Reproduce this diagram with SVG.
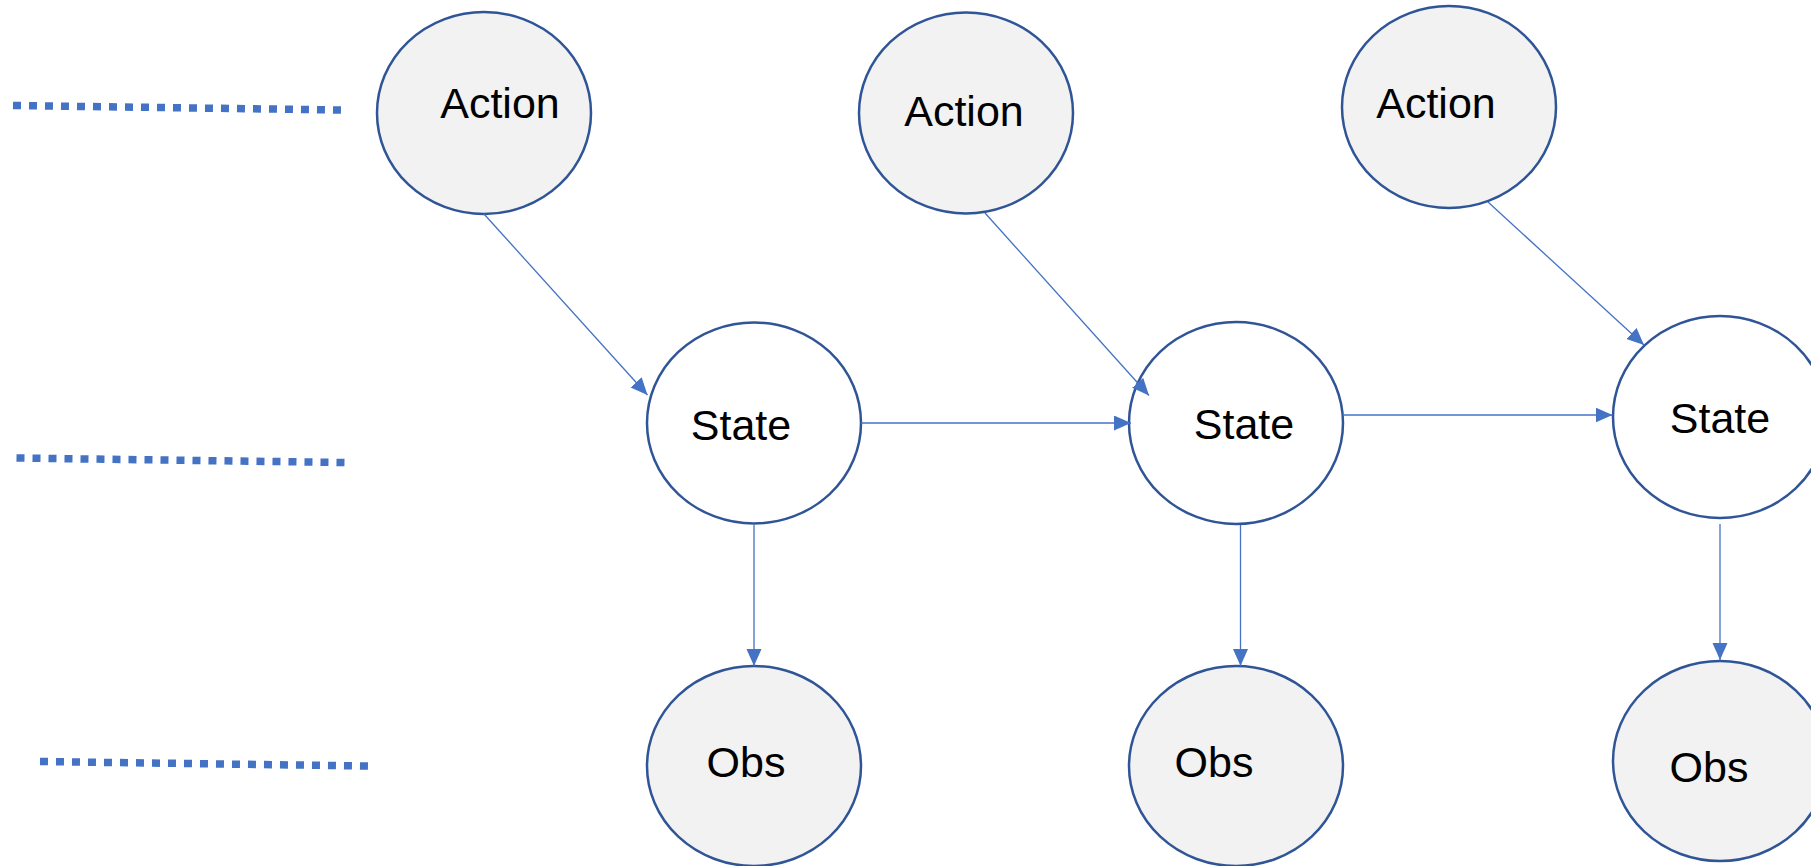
<svg xmlns="http://www.w3.org/2000/svg" width="1811" height="866" viewBox="0 0 1811 866">
  <defs>
    <style>
      .node-shaded { fill: #F2F2F2; stroke: #2F5597; stroke-width: 2.5; }
      .node-plain { fill: #FFFFFF; stroke: #2F5597; stroke-width: 2.5; }
      .label { font-family: "Liberation Sans", Arial, sans-serif; font-size: 43px; fill: #000000; text-anchor: middle; }
      .edge { stroke: #4472C4; stroke-width: 1.3; fill: none; marker-end: url(#arrow); }
      .dots { stroke: #4472C4; stroke-width: 7.5; stroke-dasharray: 8 8; fill: none; }
    </style>
    <marker id="arrow" markerUnits="userSpaceOnUse" markerWidth="18" markerHeight="16" refX="17" refY="7.5" orient="auto">
      <path d="M0,0 L17,7.5 L0,15 Z" fill="#4472C4"/>
    </marker>
  </defs>

  <rect width="1811" height="866" fill="#FFFFFF"/>

  <!-- dotted lead-in lines on the left -->
  <g id="lead-ins">
    <line class="dots" x1="13" y1="105.5" x2="341" y2="110"/>
    <line class="dots" x1="16.5" y1="458" x2="345" y2="462.5"/>
    <line class="dots" x1="40" y1="761.5" x2="368" y2="766"/>
  </g>

  <!-- action nodes -->
  <g id="action-1">
    <ellipse class="node-shaded" cx="484" cy="113" rx="107" ry="101"/>
    <text class="label" x="500" y="118">Action</text>
  </g>
  <g id="action-2">
    <ellipse class="node-shaded" cx="966" cy="113" rx="107" ry="100.5"/>
    <text class="label" x="964" y="126">Action</text>
  </g>
  <g id="action-3">
    <ellipse class="node-shaded" cx="1449" cy="107" rx="107" ry="101"/>
    <text class="label" x="1436" y="118">Action</text>
  </g>

  <!-- state nodes -->
  <g id="state-1">
    <ellipse class="node-plain" cx="754" cy="423" rx="107" ry="100.5"/>
    <text class="label" x="741" y="440">State</text>
  </g>
  <g id="state-2">
    <ellipse class="node-plain" cx="1236" cy="423" rx="107" ry="101"/>
    <text class="label" x="1244" y="439">State</text>
  </g>
  <g id="state-3">
    <ellipse class="node-plain" cx="1720" cy="417" rx="107" ry="101"/>
    <text class="label" x="1720" y="433">State</text>
  </g>

  <!-- observation nodes -->
  <g id="obs-1">
    <ellipse class="node-shaded" cx="754" cy="766" rx="107" ry="100"/>
    <text class="label" x="746" y="777">Obs</text>
  </g>
  <g id="obs-2">
    <ellipse class="node-shaded" cx="1236" cy="766" rx="107" ry="100"/>
    <text class="label" x="1214" y="777">Obs</text>
  </g>
  <g id="obs-3">
    <ellipse class="node-shaded" cx="1720" cy="761" rx="107" ry="100"/>
    <text class="label" x="1709" y="782">Obs</text>
  </g>

  <!-- connectors, drawn over the nodes so the arrowheads stay visible -->
  <g id="connectors">
    <line class="edge" x1="484" y1="214" x2="647.5" y2="395"/>
    <line class="edge" x1="985" y1="213" x2="1149" y2="395.5"/>
    <line class="edge" x1="1488" y1="202" x2="1644" y2="345"/>
    <line class="edge" x1="861" y1="423" x2="1131" y2="423"/>
    <line class="edge" x1="1344" y1="415" x2="1612.5" y2="415"/>
    <line class="edge" x1="754" y1="525" x2="754" y2="666"/>
    <line class="edge" x1="1240.5" y1="525" x2="1240.5" y2="666"/>
    <line class="edge" x1="1720" y1="524" x2="1720" y2="660"/>
  </g>
</svg>
